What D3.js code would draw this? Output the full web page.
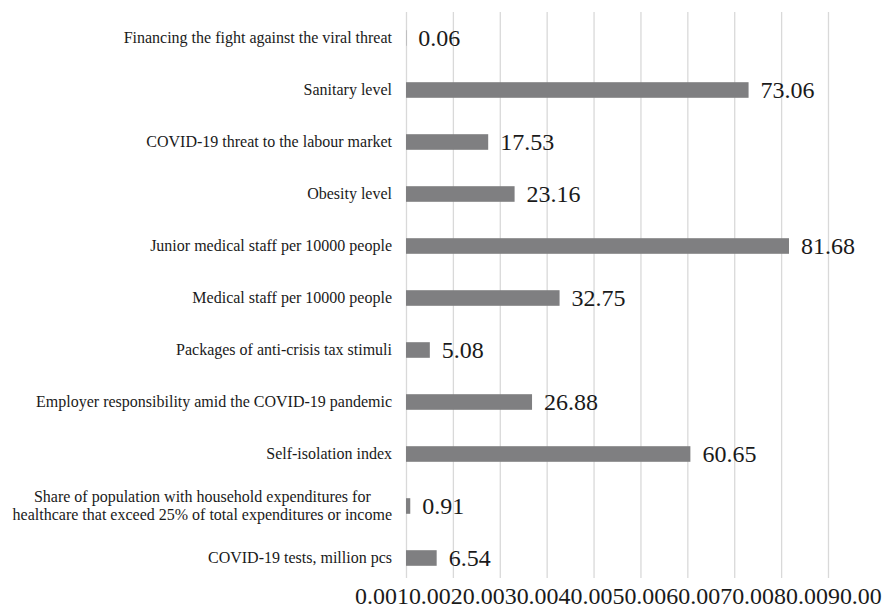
<!DOCTYPE html>
<html>
<head>
<meta charset="utf-8">
<script src="https://cdn.jsdelivr.net/npm/d3@7"></script>
<style>
  html, body { margin: 0; padding: 0; background: #fff; }
</style>
</head>
<body>
<svg id="chart" width="885" height="608"></svg>
<script>
// Indicator names, top to bottom
const categories = [
  "Financing the fight against the viral threat",
  "Sanitary level",
  "COVID-19 threat to the labour market",
  "Obesity level",
  "Junior medical staff per 10000 people",
  "Medical staff per 10000 people",
  "Packages of anti-crisis tax stimuli",
  "Employer responsibility amid the COVID-19 pandemic",
  "Self-isolation index",
  "Share of population with household expenditures for\nhealthcare that exceed 25% of total expenditures or income",
  "COVID-19 tests, million pcs"
];
const values = [0.06, 73.06, 17.53, 23.16, 81.68, 32.75, 5.08, 26.88, 60.65, 0.91, 6.54];
const tickValues = [0, 10, 20, 30, 40, 50, 60, 70, 80, 90];

const FONT = "Liberation Serif, Times New Roman, serif";
const svg = d3.select("#chart").style("font-family", FONT);
const plot = { left: 406, right: 828, top: 12, bottom: 584 };

const x = d3.scaleLinear().domain([0, 90]).range([plot.left, plot.right]);
const y = d3.scaleBand().domain(categories).range([plot.top, plot.bottom]).paddingInner(0.7).paddingOuter(0.35);

// vertical gridlines
const grid = svg.append("g")
  .attr("transform", `translate(0,${plot.bottom - 6})`)
  .call(d3.axisBottom(x).tickValues(tickValues).tickSize(-(plot.bottom - 6 - plot.top)).tickFormat(""));
grid.select(".domain").remove();
grid.selectAll(".tick line").attr("stroke", "#d9d9d9").attr("stroke-width", 1.3);

// bars
svg.append("g").selectAll("rect")
  .data(values)
  .join("rect")
  .attr("x", x(0))
  .attr("y", (d, i) => y(categories[i]))
  .attr("width", d => x(d) - x(0))
  .attr("height", y.bandwidth())
  .attr("fill", "#7f7f81");

// value labels
svg.append("g").selectAll("text")
  .data(values)
  .join("text")
  .attr("font-family", FONT)
  .attr("x", d => x(d) + 12)
  .attr("y", (d, i) => y(categories[i]) + y.bandwidth() / 2)
  .attr("dy", "0.35em")
  .attr("font-size", 24)
  .attr("fill", "#1a1a1a")
  .text(d => d.toFixed(2));

// category labels; wrapped labels are centred as a block ending at the plot edge
const catG = svg.append("g");
const labelRight = plot.left - 14;
categories.forEach(c => {
  const lines = c.split("\n");
  const cy = y(c) + y.bandwidth() / 2 - 1;
  const lh = 18;
  const t = catG.append("text")
    .attr("font-family", FONT)
    .attr("font-size", 16)
    .attr("fill", "#1a1a1a");
  const spans = lines.map((ln, j) => t.append("tspan")
      .attr("y", cy + (j - (lines.length - 1) / 2) * lh)
      .attr("dy", "0.35em")
      .text(ln));
  if (lines.length === 1) {
    t.attr("text-anchor", "end");
    spans[0].attr("x", labelRight);
  } else {
    const widest = d3.max(spans, s => s.node().getComputedTextLength());
    t.attr("text-anchor", "middle");
    spans.forEach(s => s.attr("x", labelRight - widest / 2));
  }
});

// tick labels, run together edge to edge along the bottom
const tickRow = { x0: 355, x1: 882, baseline: 604 };
const tickG = svg.append("g");
const tickText = tickG.append("text")
  .attr("font-family", FONT)
  .attr("x", 0)
  .attr("y", 0)
  .attr("font-size", 23)
  .attr("fill", "#1a1a1a");
tickText.selectAll("tspan")
  .data(tickValues)
  .join("tspan")
  .text(d => d.toFixed(2));
const natural = tickText.node().getComputedTextLength();
tickG.attr("transform",
  `translate(${tickRow.x0},${tickRow.baseline}) scale(${(tickRow.x1 - tickRow.x0) / natural},1)`);
</script>
</body>
</html>
